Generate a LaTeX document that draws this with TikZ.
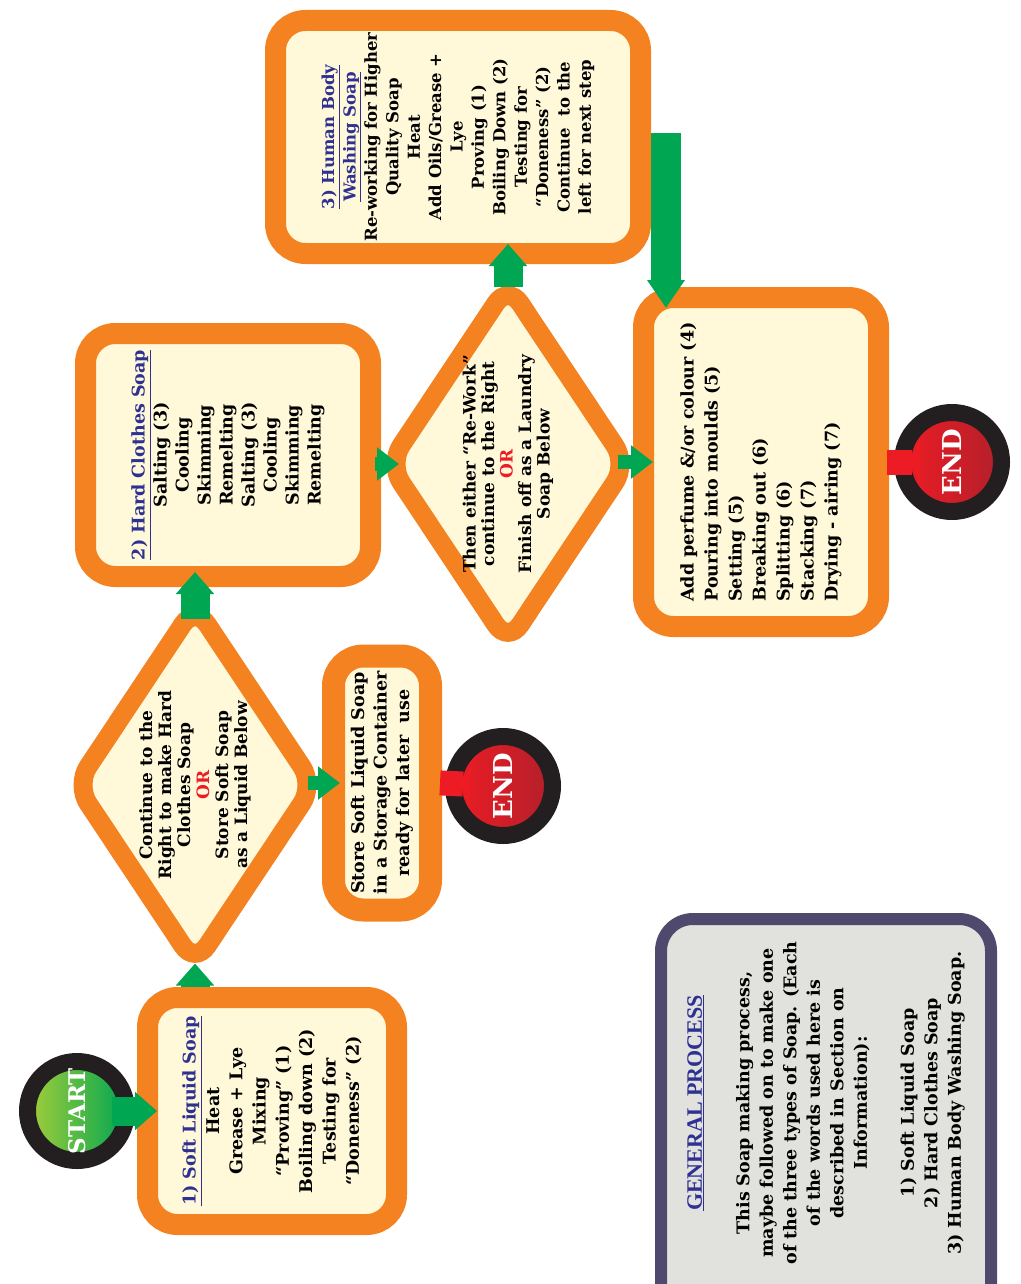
\documentclass[tikz,border=0pt]{standalone}
\usepackage{fontspec}
\setmainfont{DejaVu Serif}
\newfontfamily\headfont{Liberation Serif}
\usepackage{tikz}
\usetikzlibrary{shapes.geometric, arrows.meta, positioning, calc}
\definecolor{soapOrange}{HTML}{F58220}
\definecolor{soapCream}{HTML}{FFF9DA}
\definecolor{soapGreen}{HTML}{00A651}
\definecolor{startLime}{HTML}{A6CE39}
\definecolor{stopRed}{HTML}{ED1C24}
\definecolor{stopDark}{HTML}{B2202B}
\definecolor{ringDark}{HTML}{231F20}
\definecolor{titleBlue}{HTML}{2E3192}
\definecolor{genBorder}{HTML}{4F4A6D}
\definecolor{genFill}{HTML}{E1E1DD}
\newcommand{\steptitle}[1]{\textcolor{titleBlue}{\underline{#1}}}
\newcommand{\orword}{\textcolor{stopRed}{OR}}

\begin{document}
\begin{tikzpicture}[x=1pt, y=-1pt,
  stepbox/.style={rotate=90, draw=soapOrange, line width=21pt, fill=soapCream,
    rounded corners=30pt, inner sep=0pt, align=center,
    font=\fontsize{17.5}{22.5}\selectfont\bfseries},
  choice/.style={rotate=90, diamond, draw=soapOrange, line width=19pt, fill=soapCream,
    rounded corners=22pt, inner sep=-70pt, align=center,
    minimum width=366pt, minimum height=246pt,
    font=\fontsize{17}{19}\selectfont\bfseries},
  ball/.style={rotate=90, circle, draw=ringDark, line width=17pt, minimum size=99pt,
    inner sep=0pt, text=white, font=\fontsize{26}{26}\selectfont\bfseries},
  flow/.style={draw=soapGreen, line width=29pt, -{Triangle[length=22pt, width=37pt]}},
  flowshort/.style={draw=soapGreen, line width=14pt, -{Triangle[length=22pt, width=32pt]}},
  stopflow/.style={draw=stopRed, line width=25pt, -{Triangle[reversed, length=10pt, width=44pt]}}]
\useasboundingbox (0,0) rectangle (1020,1284);
\clip (0,0) rectangle (1020,1284);

% --- start / end balls ---
\node[ball, left color=startLime, right color=soapGreen,
  font=\fontsize{23}{23}\selectfont\bfseries] (start) at (77,1111) {START};
\node[ball, left color=stopRed, right color=stopDark] (end1) at (503,786) {END};
\node[ball, left color=stopRed, right color=stopDark] (end2) at (952,462) {END};

% --- process steps ---
\node[stepbox, minimum width=227pt, minimum height=249pt,
  font=\fontsize{17.5}{23.3}\selectfont\bfseries] (liquid) at (272,1111)
  {\steptitle{1) Soft Liquid Soap}\\ Heat\\ Grease + Lye\\ Mixing\\
   “Proving” (1)\\ Boiling down (2)\\ Testing for\\ “Doneness” (2)};
\node[choice] (choice1) at (195,785)
  {Continue to the\\ Right to make Hard\\ Clothes Soap\\ \orword\\
   Store Soft Soap\\ as a Liquid Below};
\node[stepbox, line width=23pt, minimum width=254pt, minimum height=97pt] (store) at (382,783)
  {Store Soft Liquid Soap\\ in a Storage Container\\ ready for later \ use};
\node[stepbox, minimum width=243pt, minimum height=285pt, font=\fontsize{17.5}{22}\selectfont\bfseries]
  (hard) at (228,455)
  {\steptitle{2) Hard Clothes Soap}\\ Salting (3)\\ Cooling\\ Skimming\\ Remelting\\
   Salting (3)\\ Cooling\\ Skimming\\ Remelting};
\node[choice, font=\fontsize{17}{18.5}\selectfont\bfseries] (choice2) at (508,464)
  {Then either “Re-Work”\\ continue to the Right\\ \orword\\
   Finish off as a Laundry\\ Soap Below};
\node[stepbox, minimum width=233pt, minimum height=365pt, font=\fontsize{16.5}{21.4}\selectfont\bfseries]
  (human) at (458,137)
  {\steptitle{3) Human Body}\\ \steptitle{Washing Soap}\\ Re-working for Higher\\
   Quality Soap\\ Heat\\ Add Oils/Grease +\\ Lye\\ Proving (1)\\ Boiling Down (2)\\
   Testing for\\ “Doneness” (2)\\ Continue \ to the\\ left for next step};
\node[stepbox, align=left, minimum width=329pt, minimum height=235pt,
  font=\fontsize{17.5}{24}\selectfont\bfseries] (finish) at (761,462)
  {Add perfume \&/or colour (4)\\ Pouring into moulds (5)\\ Setting (5)\\
   Breaking out (6)\\ Splitting (6)\\ Stacking (7)\\ Drying - airing (7)};

% --- general process note ---
\draw[draw=genBorder, line width=12pt, fill=genFill, rounded corners=32pt]
  (661,919) rectangle (991,1330);
\node[rotate=90, align=center, font=\fontsize{17.5}{23.5}\selectfont\bfseries] (general) at (826,1103)
  {{\headfont\fontsize{22}{22}\selectfont\steptitle{GENERAL PROCESS}}\\[24pt]
   This Soap making process,\\ maybe followed on to make one\\
   of the three types of Soap. (Each\\ of the words used here is\\
   described in Section on\\ Information):\\[23.5pt]
   1) Soft Liquid Soap\\ 2) Hard Clothes Soap\\ 3) Human Body Washing Soap.};

% --- connectors ---
\coordinate (turn) at ($(human.south)+(15,-4)$);
\coordinate (upto2) at (hard.west -| choice1.east);
\coordinate (into2) at (hard.south |- choice2.north);
\draw[flow, shorten <=-23pt, shorten >=-20pt] (start) -- (liquid);
\draw[flow, shorten >=-14pt] (liquid.east -| choice1.west) -- (choice1.west);
\draw[flow] ($(upto2)+(0,32)$) -- ($(upto2)+(0,-15)$);
\draw[flowshort] ($(store.north)+(-14,0)$) -- ($(store.north)+(18,0)$);
\draw[flowshort] ($(into2)+(-6,0)$) -- ($(into2)+(18,0)$);
\draw[flow, shorten <=-15pt, shorten >=-20pt] (choice2.east) -- (choice2.east |- human.west);
\draw[flowshort] ($(finish.north)+(-15,0)$) -- ($(finish.north)+(20,0)$);
\draw[flow, line width=30pt, -{Triangle[length=28pt, width=36pt]}, shorten >=-21pt]
  (turn) -- (turn |- finish.north east);
\draw[stopflow, shorten <=-2pt, shorten >=-26pt] (store.south) -- (end1);
\draw[stopflow, shorten <=-2pt, shorten >=-26pt] (finish.south) -- (end2);
\end{tikzpicture}
\end{document}
